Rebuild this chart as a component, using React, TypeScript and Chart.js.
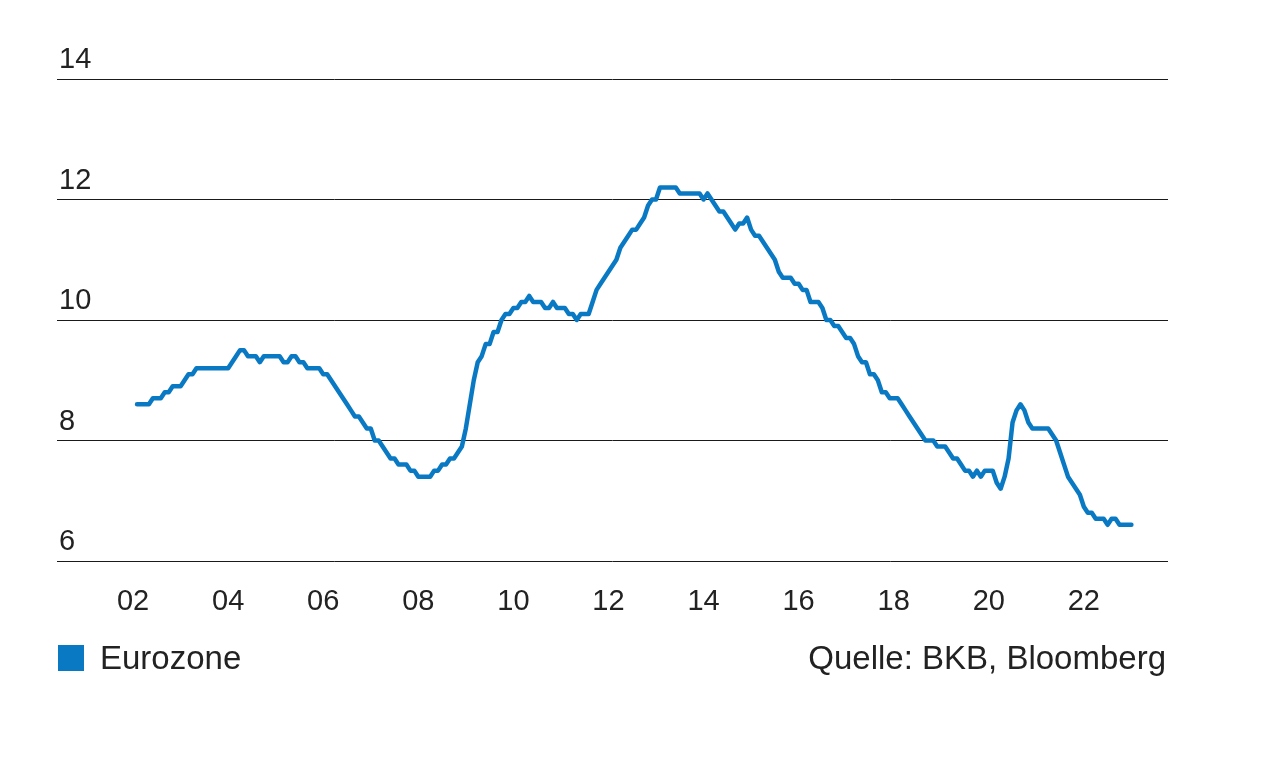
import React, { useEffect, useRef } from "react";
import { Chart, registerables } from "chart.js";

Chart.register(...registerables);

const startYear = 2002;
const seriesName = "Eurozone";
const sourceText = "Quelle: BKB, Bloomberg";
const yTicks = [6, 8, 10, 12, 14];
const xTickYears = [2002, 2004, 2006, 2008, 2010, 2012, 2014, 2016, 2018, 2020, 2022];

// Monthly unemployment rate (%), Jan 2002 – Dec 2022, one row per year
const v2002 = [8.6, 8.6, 8.6, 8.6, 8.7, 8.7, 8.7, 8.8, 8.8, 8.9, 8.9, 8.9];
const v2003 = [9.0, 9.1, 9.1, 9.2, 9.2, 9.2, 9.2, 9.2, 9.2, 9.2, 9.2, 9.2];
const v2004 = [9.3, 9.4, 9.5, 9.5, 9.4, 9.4, 9.4, 9.3, 9.4, 9.4, 9.4, 9.4];
const v2005 = [9.4, 9.3, 9.3, 9.4, 9.4, 9.3, 9.3, 9.2, 9.2, 9.2, 9.2, 9.1];
const v2006 = [9.1, 9.0, 8.9, 8.8, 8.7, 8.6, 8.5, 8.4, 8.4, 8.3, 8.2, 8.2];
const v2007 = [8.0, 8.0, 7.9, 7.8, 7.7, 7.7, 7.6, 7.6, 7.6, 7.5, 7.5, 7.4];
const v2008 = [7.4, 7.4, 7.4, 7.5, 7.5, 7.6, 7.6, 7.7, 7.7, 7.8, 7.9, 8.2];
const v2009 = [8.6, 9.0, 9.3, 9.4, 9.6, 9.6, 9.8, 9.8, 10.0, 10.1, 10.1, 10.2];
const v2010 = [10.2, 10.3, 10.3, 10.4, 10.3, 10.3, 10.3, 10.2, 10.2, 10.3, 10.2, 10.2];
const v2011 = [10.2, 10.1, 10.1, 10.0, 10.1, 10.1, 10.1, 10.3, 10.5, 10.6, 10.7, 10.8];
const v2012 = [10.9, 11.0, 11.2, 11.3, 11.4, 11.5, 11.5, 11.6, 11.7, 11.9, 12.0, 12.0];
const v2013 = [12.2, 12.2, 12.2, 12.2, 12.2, 12.1, 12.1, 12.1, 12.1, 12.1, 12.1, 12.0];
const v2014 = [12.1, 12.0, 11.9, 11.8, 11.8, 11.7, 11.6, 11.5, 11.6, 11.6, 11.7, 11.5];
const v2015 = [11.4, 11.4, 11.3, 11.2, 11.1, 11.0, 10.8, 10.7, 10.7, 10.7, 10.6, 10.6];
const v2016 = [10.5, 10.5, 10.3, 10.3, 10.3, 10.2, 10.0, 10.0, 9.9, 9.9, 9.8, 9.7];
const v2017 = [9.7, 9.6, 9.4, 9.3, 9.3, 9.1, 9.1, 9.0, 8.8, 8.8, 8.7, 8.7];
const v2018 = [8.7, 8.6, 8.5, 8.4, 8.3, 8.2, 8.1, 8.0, 8.0, 8.0, 7.9, 7.9];
const v2019 = [7.9, 7.8, 7.7, 7.7, 7.6, 7.5, 7.5, 7.4, 7.5, 7.4, 7.5, 7.5];
const v2020 = [7.5, 7.3, 7.2, 7.4, 7.7, 8.3, 8.5, 8.6, 8.5, 8.3, 8.2, 8.2];
const v2021 = [8.2, 8.2, 8.2, 8.1, 8.0, 7.8, 7.6, 7.4, 7.3, 7.2, 7.1, 6.9];
const v2022 = [6.8, 6.8, 6.7, 6.7, 6.7, 6.6, 6.7, 6.7, 6.6, 6.6, 6.6, 6.6];

const yearlyRows = [
  v2002, v2003, v2004, v2005, v2006, v2007, v2008, v2009, v2010, v2011, v2012,
  v2013, v2014, v2015, v2016, v2017, v2018, v2019, v2020, v2021, v2022,
];

const LINE_COLOR = "#0a79c3";
const TEXT_COLOR = "#222222";
const FONT = "'Liberation Sans', Arial, Helvetica, sans-serif";

const labelsPlugin = {
  id: "customLabels",
  afterDraw(chart: any) {
    const ctx = chart.ctx;
    const y = chart.scales.y;
    const x = chart.scales.x;
    const area = chart.chartArea;
    ctx.save();
    ctx.fillStyle = TEXT_COLOR;
    ctx.font = `29px ${FONT}`;
    ctx.textBaseline = "middle";
    ctx.textAlign = "left";
    yTicks.forEach((t) => {
      ctx.fillText(String(t), area.left + 2, y.getPixelForValue(t) - 19);
    });
    ctx.textAlign = "center";
    xTickYears.forEach((yr) => {
      ctx.fillText(String(yr % 100).padStart(2, "0"), x.getPixelForValue(yr), area.bottom + 41);
    });
    ctx.restore();
  },
};

export default function App() {
  const canvasRef = useRef<HTMLCanvasElement | null>(null);

  useEffect(() => {
    const points: { x: number; y: number }[] = [];
    yearlyRows.forEach((row, k) => {
      row.forEach((val, m) => {
        points.push({ x: startYear + k + (m + 1) / 12, y: val });
      });
    });
    const chart = new Chart(canvasRef.current as HTMLCanvasElement, {
      type: "line",
      data: {
        datasets: [
          {
            label: seriesName,
            data: points,
            borderColor: LINE_COLOR,
            backgroundColor: LINE_COLOR,
            borderWidth: 4.5,
            pointRadius: 0,
            tension: 0,
            borderJoinStyle: "round",
            borderCapStyle: "round",
          },
        ],
      },
      options: {
        animation: false,
        responsive: false,
        devicePixelRatio: 1,
        layout: { padding: { left: 57, right: 101, top: 79, bottom: 217 } },
        plugins: { legend: { display: false }, tooltip: { enabled: false } },
        scales: {
          x: {
            type: "linear",
            min: 2000.4,
            max: 2023.77,
            grid: { display: false, drawTicks: false },
            border: { display: false },
            ticks: { display: false },
          },
          y: {
            type: "linear",
            min: 6,
            max: 14,
            grid: { color: "#1a1a1a", lineWidth: 1, drawTicks: false },
            border: { display: false },
            ticks: { display: false, stepSize: 2 },
          },
        },
      },
      plugins: [labelsPlugin],
    } as any);
    return () => chart.destroy();
  }, []);

  return (
    <div style={{ position: "absolute", left: 0, top: 0, width: 1269, height: 778, background: "#fff" }}>
      <canvas ref={canvasRef} width={1269} height={778} style={{ display: "block" }} />
      <div
        style={{
          position: "absolute",
          left: 58,
          top: 645,
          width: 26,
          height: 26,
          background: LINE_COLOR,
        }}
      />
      <div
        style={{
          position: "absolute",
          left: 100,
          top: 638,
          fontFamily: FONT,
          fontSize: 33,
          lineHeight: "40px",
          color: TEXT_COLOR,
        }}
      >
        {seriesName}
      </div>
      <div
        style={{
          position: "absolute",
          right: 1269 - 1166,
          top: 638,
          fontFamily: FONT,
          fontSize: 33,
          lineHeight: "40px",
          color: TEXT_COLOR,
          whiteSpace: "nowrap",
        }}
      >
        {sourceText}
      </div>
    </div>
  );
}
